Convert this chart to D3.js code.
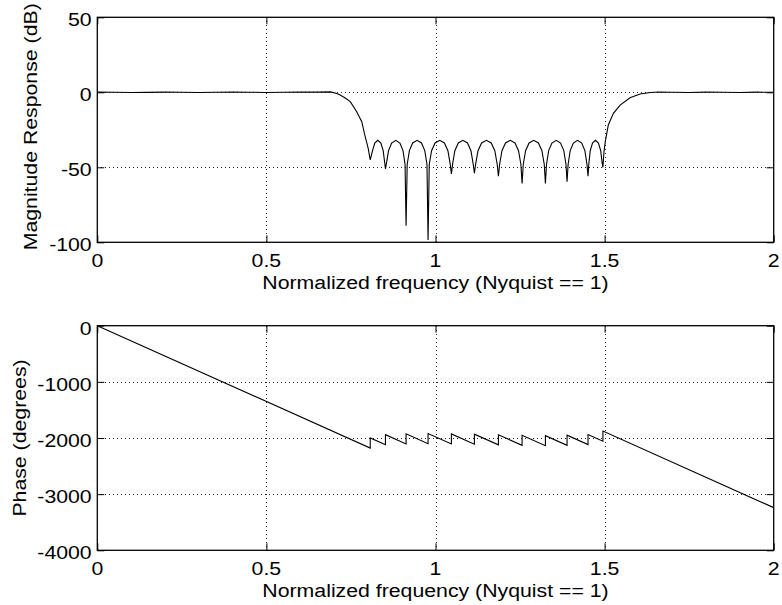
<!DOCTYPE html>
<html>
<head>
<meta charset="utf-8">
<script src="https://cdn.jsdelivr.net/npm/d3@7"></script>
<style>
  html, body { margin: 0; padding: 0; background: #fff; }
  svg { display: block; }
  text { font-family: "Liberation Sans", Arial, Helvetica, sans-serif; fill: #000; }
</style>
</head>
<body>
<svg id="chart" width="782" height="605"></svg>
<script>
// ---------------- data ----------------
const xTicks = [0, 0.5, 1, 1.5, 2];
const xTickLabels = ["0", "0.5", "1", "1.5", "2"];
const magTicks = [50, 0, -50, -100];
const magTickLabels = ["50", "0", "-50", "-100"];
const phaseTicks = [0, -1000, -2000, -3000, -4000];
const phaseTickLabels = ["0", "-1000", "-2000", "-3000", "-4000"];

const xLabel = "Normalized frequency (Nyquist == 1)";
const magLabel = "Magnitude Response (dB)";
const phaseLabel = "Phase (degrees)";

// magnitude response (normalized frequency, dB)
const magFreq = [
  0, 0.05, 0.10, 0.15, 0.20, 0.25, 0.30, 0.35, 0.40, 0.45, 0.50, 0.55, 0.60, 0.65, 0.69,
  0.708, 0.718, 0.733, 0.748, 0.767, 0.782, 0.791, 0.801, 0.807,
  0.8093, 0.8138, 0.8205, 0.8295, 0.8385, 0.8453, 0.8498, 0.852,
  0.8551, 0.8612, 0.8703, 0.8825, 0.8947, 0.9039, 0.9100, 0.913,
  0.9163, 0.9228, 0.9325, 0.9455, 0.9585, 0.9683, 0.9748, 0.978,
  0.9815, 0.9884, 0.9987, 1.0125, 1.0263, 1.0367, 1.0436, 1.047,
  1.0504, 1.0572, 1.0674, 1.0810, 1.0946, 1.1048, 1.1116, 1.115,
  1.1186, 1.1257, 1.1363, 1.1505, 1.1647, 1.1754, 1.1825, 1.186,
  1.1895, 1.1965, 1.2070, 1.2210, 1.2350, 1.2455, 1.2525, 1.256,
  1.2595, 1.2664, 1.2767, 1.2905, 1.3043, 1.3147, 1.3216, 1.325,
  1.3282, 1.3346, 1.3442, 1.3570, 1.3698, 1.3794, 1.3858, 1.389,
  1.3921, 1.3983, 1.4076, 1.4200, 1.4324, 1.4417, 1.4479, 1.451,
  1.4532, 1.4576, 1.4642, 1.4730, 1.4818, 1.4884, 1.4928, 1.495,
  1.498, 1.502, 1.511, 1.526, 1.546, 1.575, 1.605, 1.635, 1.66,
  1.70, 1.75, 1.80, 1.85, 1.90, 1.95, 2.0
];
const magDb = [
  0.1, 0.0, -0.1, -0.05, 0.1, 0.05, -0.1, 0.0, 0.15, 0.05, -0.1, 0.05, 0.2, 0.1, 0.3,
  -0.8, -1.8, -3.8, -6.2, -12.9, -19.6, -28.5, -37.4, -45,
  -43, -38.9, -33.8, -32, -33.8, -38.9, -47, -51,
  -47, -38.9, -33.8, -32, -33.8, -38.9, -48.1, -89,
  -48.1, -38.9, -33.8, -32, -33.8, -38.9, -48.1, -98.5,
  -48.1, -38.9, -33.8, -32, -33.8, -38.9, -48.1, -54.5,
  -48.1, -38.9, -33.8, -32, -33.8, -38.9, -48.1, -54,
  -48.1, -38.9, -33.8, -32, -33.8, -38.9, -48.1, -56,
  -48.1, -38.9, -33.8, -32, -33.8, -38.9, -48.1, -60.7,
  -48.1, -38.9, -33.8, -32, -33.8, -38.9, -48.1, -60.7,
  -48.1, -38.9, -33.8, -32, -33.8, -38.9, -48.1, -59.6,
  -48.1, -38.9, -33.8, -32, -33.8, -38.9, -48.1, -56,
  -48.1, -38.9, -33.8, -32, -33.8, -38.9, -47, -50,
  -40, -32.9, -21.8, -14, -8.5, -3.6, -1.1, -0.1, 0.15,
  0.05, -0.1, 0.1, 0.0, -0.1, 0.1, 0.0
];

// phase response vertices (normalized frequency, degrees)
const phaseFreq = [
  0, 0.807, 0.807, 0.852, 0.852, 0.913, 0.913, 0.978, 0.978, 1.047, 1.047,
  1.115, 1.115, 1.186, 1.186, 1.256, 1.256, 1.325, 1.325, 1.389, 1.389,
  1.451, 1.451, 1.495, 1.495, 2.0
];
const phaseDeg = [
  0, -2179, -1999, -2120, -1940, -2105, -1925, -2101, -1921, -2107, -1927,
  -2111, -1931, -2122, -1942, -2131, -1951, -2138, -1958, -2130, -1950,
  -2118, -1938, -2057, -1877, -3240
];

// ---------------- drawing ----------------
const svg = d3.select("#chart");
const FS = 19, SX = 1.12;

function label(g, x, y, txt, anchor, rotate) {
  g.append("text")
    .attr("transform", `translate(${x},${y})` + (rotate ? " rotate(-90)" : "") + ` scale(${SX},1)`)
    .attr("text-anchor", anchor)
    .attr("font-size", FS)
    .text(txt);
}

function panel(cfg) {
  const x = d3.scaleLinear().domain([0, 2]).range([97.3, 773.7]);
  const y = d3.scaleLinear().domain(cfg.yDomain).range([cfg.top, cfg.bottom]);
  const g = svg.append("g");
  const left = x.range()[0], right = x.range()[1];
  const top = cfg.top, bottom = cfg.bottom;

  // grid (dotted)
  const grid = g.append("g").attr("stroke", "#222").attr("stroke-width", 1)
    .attr("stroke-dasharray", "1,3").attr("shape-rendering", "crispEdges");
  xTicks.slice(1, -1).forEach(t => {
    grid.append("line").attr("x1", Math.round(x(t)) + 0.5).attr("x2", Math.round(x(t)) + 0.5)
      .attr("y1", top).attr("y2", bottom);
  });
  cfg.yTicks.slice(1, -1).forEach(t => {
    grid.append("line").attr("y1", Math.round(y(t)) + 0.5).attr("y2", Math.round(y(t)) + 0.5)
      .attr("x1", left).attr("x2", right);
  });

  // curve
  const line = d3.line().x(d => x(d[0])).y(d => y(d[1]));
  const pts = cfg.fx.map((f, i) => [f, cfg.fy[i]]);
  g.append("path").datum(pts).attr("d", line)
    .attr("fill", "none").attr("stroke", "#000").attr("stroke-width", 1.1)
    .attr("stroke-linejoin", "miter");

  // axes with inward ticks on all four sides
  const tl = 7;
  const axB = d3.axisBottom(x).tickValues(xTicks).tickSize(-tl).tickFormat("");
  const axT = d3.axisTop(x).tickValues(xTicks).tickSize(-tl).tickFormat("");
  const axL = d3.axisLeft(y).tickValues(cfg.yTicks).tickSize(-tl).tickFormat("");
  const axR = d3.axisRight(y).tickValues(cfg.yTicks).tickSize(-tl).tickFormat("");
  [[axB, `translate(0,${bottom})`], [axT, `translate(0,${top})`],
   [axL, `translate(${left},0)`], [axR, `translate(${right},0)`]].forEach(([ax, tr]) => {
    const a = g.append("g").attr("transform", tr).call(ax);
    a.select(".domain").remove();
    a.selectAll("line").attr("stroke", "#000").attr("stroke-width", 1);
  });
  g.append("rect").attr("x", left).attr("y", top)
    .attr("width", right - left).attr("height", bottom - top)
    .attr("fill", "none").attr("stroke", "#000").attr("stroke-width", 1.3);

  // tick labels
  xTicks.forEach((t, i) => label(g, x(t), bottom + 24.4, xTickLabels[i], "middle"));
  cfg.yTicks.forEach((t, i) => label(g, 91.7, y(t) + 9, cfg.yLabels[i], "end"));

  // axis titles
  label(g, (left + right) / 2, bottom + 47, xLabel, "middle");
  label(g, cfg.ylx, (top + bottom) / 2 - cfg.yOff, cfg.yTitle, "middle", true);
}

panel({
  yDomain: [50, -100], top: 17.3, bottom: 242.3,
  yTicks: magTicks, yLabels: magTickLabels,
  fx: magFreq, fy: magDb, yTitle: magLabel, ylx: 37, yOff: 3
});
panel({
  yDomain: [0, -4000], top: 325.7, bottom: 550.3,
  yTicks: phaseTicks, yLabels: phaseTickLabels,
  fx: phaseFreq, fy: phaseDeg, yTitle: phaseLabel, ylx: 25.5, yOff: 0
});
</script>
</body>
</html>
